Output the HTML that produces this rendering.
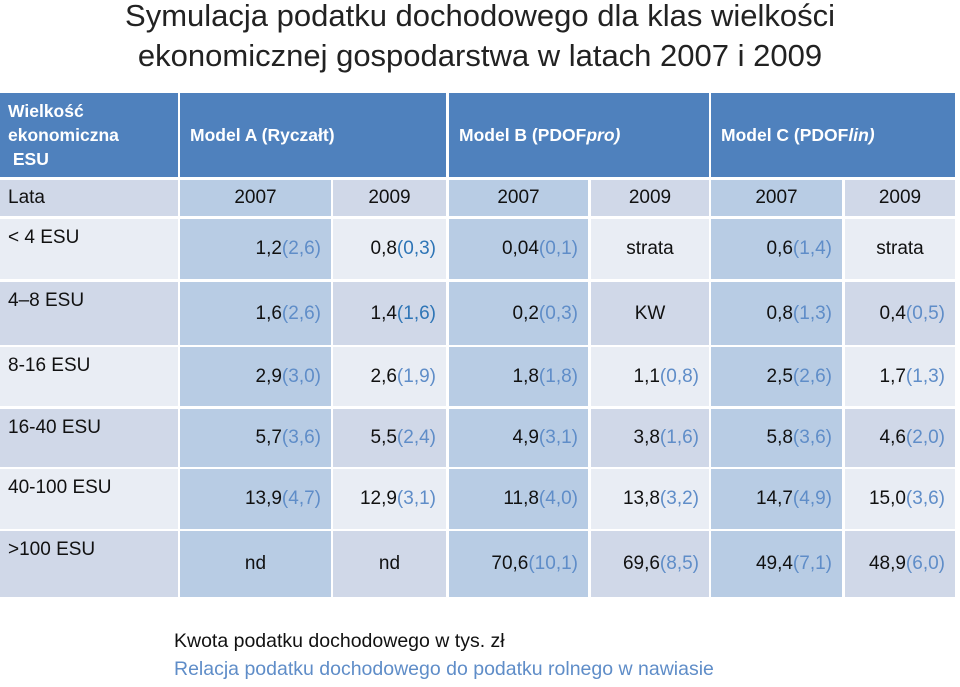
<!DOCTYPE html>
<html><head><meta charset="utf-8"><style>
body{margin:0;width:960px;height:687px;background:#fff;position:relative;overflow:hidden;font-family:"Liberation Sans","DejaVu Sans",sans-serif;}
.c{position:absolute;box-sizing:border-box;font-size:19px;color:#111;display:flex;align-items:center;white-space:nowrap}
.h{background:#4F81BD;color:#fff;font-weight:bold;font-size:17.5px}
.d{background:#D0D8E8}.l{background:#E9EDF4}.m{background:#B8CCE4}
.r{justify-content:flex-end;padding-right:10px}.ce{justify-content:center}
.f{align-items:flex-start;padding:6px 0 0 8px}
.p{color:#5F8DC8}.p2{color:#2E75B6}
.t{position:absolute;left:0;width:960px;text-align:center;font-size:31px;color:#222}
.foot{position:absolute;left:174px;font-size:19.5px}
</style></head><body>
<div class="t" style="top:-2px">Symulacja podatku dochodowego dla klas wielkości</div>
<div class="t" style="top:38px">ekonomicznej gospodarstwa w latach 2007 i 2009</div>
<div id="tbl"></div>
<div class="foot" style="top:630px;color:#111">Kwota podatku dochodowego w tys. zł</div>
<div class="foot" style="top:658px;color:#5F8DC8">Relacja podatku dochodowego do podatku rolnego w nawiasie</div>
<script>
const cols=[[0,178],[180,331],[333,446],[449,588],[591,709],[711,842],[845,955]];
const rows=[[219,279],[282,345],[347,406],[409,467],[469,529],[531,597]];
const rowLabels=["< 4 ESU","4–8 ESU","8-16 ESU","16-40 ESU","40-100 ESU",">100 ESU"];
const vals=[
["1,2 |2,6","0,8 |0,3","0,04 |0,1","strata","0,6 |1,4","strata"],
["1,6 |2,6","1,4 |1,6","0,2 |0,3","KW","0,8 |1,3","0,4 |0,5"],
["2,9 |3,0","2,6 |1,9","1,8 |1,8","1,1 |0,8","2,5 |2,6","1,7 |1,3"],
["5,7 |3,6","5,5 |2,4","4,9 |3,1","3,8 |1,6","5,8 |3,6","4,6 |2,0"],
["13,9 |4,7","12,9 |3,1","11,8 |4,0","13,8 |3,2","14,7 |4,9","15,0 |3,6"],
["nd","nd","70,6 |10,1","69,6 |8,5","49,4 |7,1","48,9 |6,0"]];
const tb=document.getElementById('tbl');
function cell(x1,x2,y1,y2,cls,html,name){const e=document.createElement('div');e.className='c '+cls;
e.style.left=x1+'px';e.style.width=(x2-x1)+'px';e.style.top=y1+'px';e.style.height=(y2-y1)+'px';e.innerHTML=html;


tb.appendChild(e);}
cell(0,178,93,177,'h f','<div style="line-height:24px;padding-top:0">Wielkość<br>ekonomiczna<br>&nbsp;ESU</div>','header-size');
cell(180,446,93,177,'h','<span style="padding-left:10px">Model A (Ryczałt)</span>','header-model-a');
cell(449,709,93,177,'h','<span style="padding-left:10px">Model B (PDOF<i>pro)</i></span>','header-model-b');
cell(711,955,93,177,'h','<span style="padding-left:10px">Model C (PDOF<i>lin)</i></span>','header-model-c');
cell(0,178,180,216,'d','<span style="padding-left:8px">Lata</span>','header-years-label');
for(let j=1;j<7;j++)cell(cols[j][0],cols[j][1],180,216,(j%2?'m':'d')+' ce',j%2?'2007':'2009','header-year');
rows.forEach((r,i)=>{const bg=i%2?'d':'l';
cell(0,178,r[0],r[1],bg+' f','<span style="padding-top:2px">'+rowLabels[i]+'</span>','row-label');
vals[i].forEach((v,j)=>{const c=cols[j+1];let html,al;
if(v.includes('|')){const [a,b]=v.split('|');const pc=(i==0&&j==1)||(i==1&&j==1)?'p2':'p';html=a+'<span class="'+pc+'">('+b+')</span>';al='r';}
else{html=v;al=(v=='nd'&&j==0)?'ce':'ce';}
cell(c[0],c[1],r[0],r[1],(j%2?bg:'m')+' '+al,html,'value-cell');});});
</script>
</body></html>
